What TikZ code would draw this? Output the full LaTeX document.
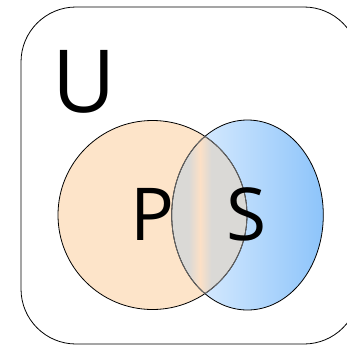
\documentclass[tikz,border=0pt]{standalone}
\usepackage{fontspec}
\setmainfont{Open Sans}
\definecolor{peach}{HTML}{FDE4C9}
\definecolor{skyblue}{HTML}{8DC4FA}
\definecolor{lightsky}{HTML}{E6F2FF}
\definecolor{overlapgrey}{HTML}{DAD9D6}
\definecolor{overlapmid}{HTML}{FCE0C6}
\pgfdeclarehorizontalshading{overlapshade}{100bp}{color(0bp)=(overlapgrey); color(25bp)=(overlapgrey); color(44bp)=(overlapgrey); color(50bp)=(overlapmid); color(56bp)=(overlapgrey); color(75bp)=(overlapgrey); color(100bp)=(overlapgrey)}
\begin{document}
\begin{tikzpicture}[x=1pt,y=-1pt,
  outline/.style={draw=black,line width=0.8pt},
  innerline/.style={draw=gray!80!black,line width=0.8pt},
  biglabel/.style={inner sep=0pt,anchor=base,font=\fontsize{87}{87}\selectfont},
  setlabel/.style={inner sep=0pt,anchor=base,font=\fontsize{73}{73}\selectfont}]
\useasboundingbox (0,0) rectangle (347,345);
\begin{scope}
\clip (0,0) rectangle (347,345);
\draw[outline,rounded corners=55pt] (21,7) rectangle (359,344);
\end{scope}
% P circle
\fill[peach] (152.5,215) circle[radius=94.5];
% S ellipse
\shade[left color=lightsky,right color=skyblue] (247.5,215) ellipse[x radius=75.8,y radius=95];
% overlap
\begin{scope}
\clip (152.5,215) circle[radius=94.5];
\clip (247.5,215) ellipse[x radius=75.8,y radius=95];
\shade[shading=overlapshade] (153,120) rectangle (247,310);
\end{scope}
\draw[outline] (152.5,215) circle[radius=94.5];
\draw[outline] (247.5,215) ellipse[x radius=75.8,y radius=95];
\begin{scope}
\clip (152.5,215) circle[radius=94.5];
\draw[innerline] (247.5,215) ellipse[x radius=75.8,y radius=95];
\end{scope}
\begin{scope}
\clip (247.5,215) ellipse[x radius=75.8,y radius=95];
\draw[innerline] (152.5,215) circle[radius=94.5];
\end{scope}
\node[biglabel] (u) at (84,112) {U};
\node[setlabel] (p) at (152.5,240) {P};
\node[setlabel] (s) at (246.5,240) {S};
\end{tikzpicture}
\end{document}
